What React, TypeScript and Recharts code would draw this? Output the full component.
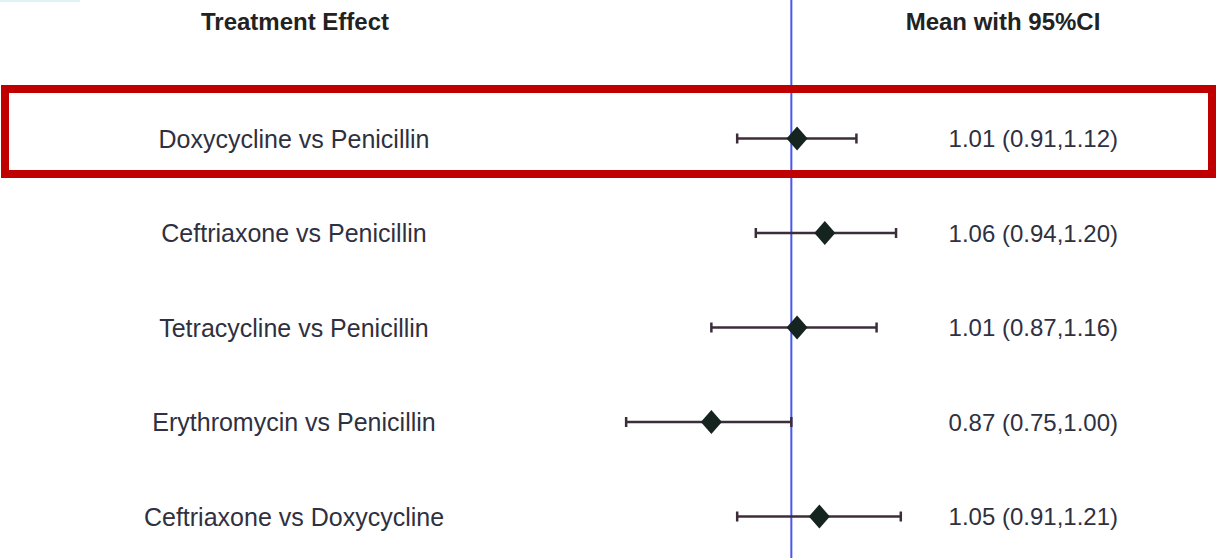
import {
  ComposedChart, Scatter, ErrorBar, XAxis, YAxis, ReferenceLine,
} from 'recharts';

const treatments = [
  'Doxycycline vs Penicillin',
  'Ceftriaxone vs Penicillin',
  'Tetracycline vs Penicillin',
  'Erythromycin vs Penicillin',
  'Ceftriaxone vs Doxycycline',
];
const means = [1.01, 1.06, 1.01, 0.87, 1.05];
const lower = [0.91, 0.94, 0.87, 0.75, 0.91];
const upper = [1.12, 1.2, 1.16, 1.0, 1.21];
const rowTicks = [0, 1, 2, 3, 4];

const data = treatments.map((name, i) => ({
  row: i,
  name,
  mean: means[i],
  err: [means[i] - lower[i], upper[i] - means[i]],
}));

const fmt = (i: number) =>
  `${means[i].toFixed(2)} (${lower[i].toFixed(2)},${upper[i].toFixed(2)})`;

const textColor = '#2f3040';
const font = '"Liberation Sans", Arial, sans-serif';

function Diamond(props: any) {
  const { cx, cy } = props;
  const w = 10.5;
  const h = 12;
  return (
    <polygon
      points={`${cx},${cy - h} ${cx + w},${cy} ${cx},${cy + h} ${cx - w},${cy}`}
      fill="#15241e"
    />
  );
}

const leftTick = (props: any) => (
  <text x={294} y={props.y} textAnchor="middle" dominantBaseline="central"
    fontSize={25} fill={textColor} fontFamily={font}>
    {treatments[props.payload.value]}
  </text>
);

const rightTick = (props: any) => (
  <text x={1118} y={props.y} textAnchor="end" dominantBaseline="central"
    fontSize={24} fill={textColor} fontFamily={font}>
    {fmt(props.payload.value)}
  </text>
);

export default function App() {
  const header: React.CSSProperties = {
    position: 'absolute', top: 7, width: 400, textAlign: 'center',
    fontFamily: font, fontWeight: 'bold', fontSize: 24, lineHeight: '30px',
    color: '#222',
  };
  return (
    <div style={{ position: 'absolute', left: 0, top: 0, width: 1217, height: 558, background: '#fff', overflow: 'hidden' }}>
      <div style={{ position: 'absolute', left: 0, top: 0, width: 80, height: 2, background: '#dff3f3' }} />
      <ComposedChart width={1217} height={558} data={data}
        margin={{ top: 0, right: 215, bottom: 0, left: 438 }}>
        <XAxis type="number" dataKey="mean" scale="log" domain={[0.6, 1.3]} allowDataOverflow hide />
        <YAxis yAxisId="left" type="number" dataKey="row" reversed domain={[-1.4656, 4.439]}
          allowDataOverflow ticks={rowTicks} interval={0} width={60}
          axisLine={false} tickLine={false} tick={leftTick} />
        <YAxis yAxisId="right" orientation="right" type="number" dataKey="row" reversed
          domain={[-1.4656, 4.439]} allowDataOverflow ticks={rowTicks} interval={0} width={60}
          axisLine={false} tickLine={false} tick={rightTick} />
        <ReferenceLine yAxisId="left" x={1} stroke="#4657f2" strokeWidth={2} />
        <Scatter yAxisId="left" dataKey="mean" shape={<Diamond />} isAnimationActive={false}>
          <ErrorBar dataKey="err" direction="x" width={5} stroke="#3b2e39" strokeWidth={2.5} />
        </Scatter>
      </ComposedChart>
      <div style={{ ...header, left: 95 }}>Treatment Effect</div>
      <div style={{ ...header, left: 803 }}>Mean with 95%CI</div>
      <div style={{
        position: 'absolute', left: 1, top: 85, width: 1215, height: 93,
        border: '8px solid #c00000', boxSizing: 'border-box', pointerEvents: 'none',
      }} />
    </div>
  );
}
